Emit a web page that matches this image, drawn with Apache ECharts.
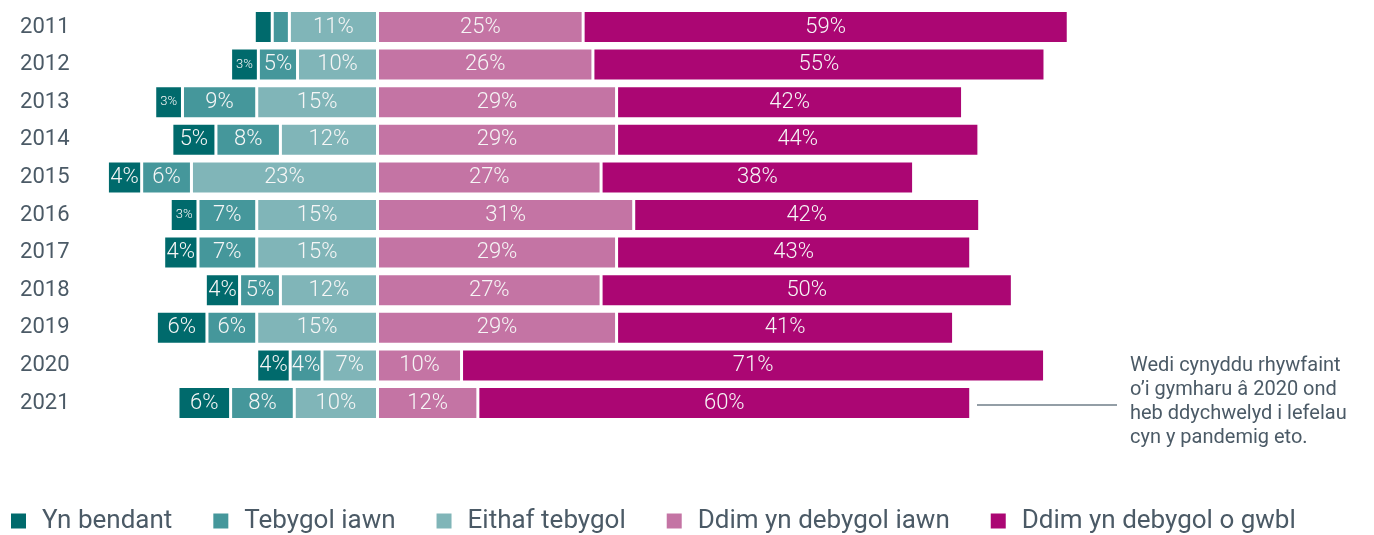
<!DOCTYPE html>
<html>
<head>
<meta charset="utf-8">
<script src="https://cdn.jsdelivr.net/npm/echarts@6/dist/echarts.min.js"></script>
<style>
html,body{margin:0;padding:0;background:#fff;}
#chart{width:1374px;height:535px;}
</style>
</head>
<body>
<div id="chart"></div>
<script>
const years = ['2011','2012','2013','2014','2015','2016','2017','2018','2019','2020','2021'];
const seriesNames = ['Yn bendant','Tebygol iawn','Eithaf tebygol','Ddim yn debygol iawn','Ddim yn debygol o gwbl'];
const ynBendant      = [2.2, 3.4, 3.4, 5.4, 4.2, 3.4, 4.2, 4.2, 6.2, 4.1, 6.45];
const tebygolIawn    = [2.1, 4.8, 9.1, 7.9, 6.1, 7.2, 7.2, 5.0, 6.1, 3.9, 7.8];
const eithafTebygol  = [10.8, 9.8, 14.8, 11.9, 22.8, 14.8, 14.8, 11.9, 14.8, 6.8, 10.2];
const ddimIawn       = [25.2, 26.4, 29.3, 29.3, 27.4, 31.4, 29.3, 27.4, 29.3, 10.3, 12.3];
const ddimGwbl       = [59.45, 55.4, 42.4, 44.4, 38.3, 42.4, 43.4, 50.4, 41.3, 71.45, 60.4];
const annotationText = 'Wedi cynyddu rhywfaint\no\u2019i gymharu \u00e2 2020 ond\nheb ddychwelyd i lefelau\ncyn y pandemig eto.';

const colors = {
  'Yn bendant': '#006a6c',
  'Tebygol iawn': '#45979b',
  'Eithaf tebygol': '#80b5b8',
  'Ddim yn debygol iawn': '#c474a4',
  'Ddim yn debygol o gwbl': '#ab0673'
};
const textColor = '#4b5a66';
const fontFam = 'Roboto, "Noto Sans", sans-serif';

function items(values, sign) {
  return values.map(v => {
    const item = { value: sign * v };
    if (v < 2.5) item.label = { show: false };
    else if (v < 3.5) item.label = { fontSize: 13 };
    return item;
  });
}

function bar(name, values, sign) {
  return {
    name: name,
    type: 'bar',
    stack: 'total',
    barWidth: 33,
    data: items(values, sign),
    itemStyle: { color: colors[name], borderColor: '#ffffff', borderWidth: 1.5 },
    label: {
      show: true,
      position: 'inside',
      color: '#f6f6f6',
      fontFamily: fontFam,
      fontWeight: 300,
      fontSize: 22,
      formatter: p => Math.round(Math.abs(p.value)) + '%'
    },
    emphasis: { disabled: true }
  };
}

const chart = echarts.init(document.getElementById('chart'), null, { renderer: 'canvas' });
chart.setOption({
  animation: false,
  backgroundColor: '#ffffff',
  grid: { left: 51.1, right: 180.5, top: 8.2, bottom: 535 - 421.8, containLabel: false },
  xAxis: { type: 'value', min: -40, max: 100, show: false },
  yAxis: {
    type: 'category',
    data: years,
    inverse: true,
    axisLine: { show: false },
    axisTick: { show: false },
    axisLabel: { align: 'left', margin: 31, color: textColor, fontSize: 22, fontFamily: fontFam }
  },
  legend: {
    data: seriesNames,
    left: 9,
    bottom: 1,
    padding: 0,
    itemWidth: 17,
    itemHeight: 17,
    itemGap: 39,
    icon: 'rect',
    textStyle: { color: textColor, fontSize: 26, fontFamily: fontFam, padding: [0, 0, 0, 10] }
  },
  series: [
    bar('Eithaf tebygol', eithafTebygol, -1),
    bar('Tebygol iawn', tebygolIawn, -1),
    bar('Yn bendant', ynBendant, -1),
    bar('Ddim yn debygol iawn', ddimIawn, 1),
    bar('Ddim yn debygol o gwbl', ddimGwbl, 1)
  ],
  graphic: [
    { type: 'line', shape: { x1: 977, y1: 405, x2: 1117, y2: 405 }, style: { stroke: '#6f7e88', lineWidth: 1.5 } },
    { type: 'text', left: 1130, top: 354, style: { text: annotationText, fill: textColor, fontSize: 20, lineHeight: 24, fontFamily: fontFam } }
  ]
});
</script>
</body>
</html>
